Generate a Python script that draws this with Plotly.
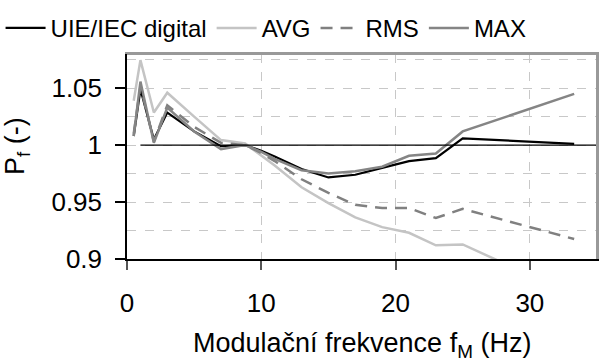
import plotly.graph_objects as go

freq = [0.5, 1, 2, 3, 5, 7, 8.8, 10, 11, 13, 15, 17, 19, 21, 23, 25, 33.3]
uie = [1.008, 1.049, 1.005, 1.0286, 1.012, 0.999, 1.0, 0.995, 0.990, 0.979, 0.9716, 0.974, 0.980, 0.986, 0.9886, 1.006, 1.001]
avg = [1.039, 1.0746, 1.0286, 1.046, 1.025, 1.0044, 1.0014, 0.991, 0.982, 0.963, 0.949, 0.9365, 0.928, 0.923, 0.912, 0.9128, 0.868]
rms = [1.010, 1.052, 1.003, 1.035, 1.016, 1.002, 1.0, 0.993, 0.986, 0.970, 0.958, 0.9476, 0.9447, 0.9447, 0.936, 0.944, 0.9175]
mx = [1.008, 1.0558, 1.002, 1.033, 1.012, 0.9965, 1.0, 0.994, 0.988, 0.978, 0.975, 0.977, 0.981, 0.9906, 0.9926, 1.012, 1.045]

ref_x = [1, 35]
ref_y = [1, 1]

x_ticks = [0, 10, 20, 30]
y_ticks = [0.9, 0.95, 1, 1.05]
y_tick_text = ["0.9", "0.95", "1", "1.05"]

x_title = "Modulační frekvence f<sub>M</sub> (Hz)"
y_title = "P<sub>f</sub> (-)"

X_RANGE = [0, 35]
Y_RANGE = [0.9, 1.08]

FONT = "Liberation Sans, Arial, sans-serif"

fig = go.Figure()
fig.add_trace(go.Scatter(x=ref_x, y=ref_y, mode="lines", line=dict(color="black", width=1.2),
                         showlegend=False, hoverinfo="skip", xaxis="x2", yaxis="y2"))
fig.add_trace(go.Scatter(x=freq, y=uie, mode="lines", name="UIE/IEC digital",
                         line=dict(color="black", width=2.2)))
fig.add_trace(go.Scatter(x=freq, y=avg, mode="lines", name="AVG",
                         line=dict(color="#c4c4c4", width=2.5)))
fig.add_trace(go.Scatter(x=freq, y=rms, mode="lines", name="RMS",
                         line=dict(color="#808080", width=2.5, dash="12px,8px")))
fig.add_trace(go.Scatter(x=freq, y=mx, mode="lines", name="MAX",
                         line=dict(color="#858585", width=2.5)))

fig.update_layout(
    width=614, height=361,
    margin=dict(l=127, r=17, t=54, b=102, autoexpand=False),
    paper_bgcolor="white", plot_bgcolor="white",
    font=dict(family=FONT, size=26, color="black"),
    legend=dict(orientation="h", x=-0.269, y=1.235,
                xanchor="left", yanchor="top", font=dict(size=24), itemwidth=40,
                bgcolor="rgba(0,0,0,0)", tracegroupgap=0),
    xaxis2=dict(overlaying="x", side="top", range=X_RANGE, showline=True, linecolor="#999999",
                linewidth=2, showgrid=False, zeroline=False, showticklabels=False, ticks="",
                automargin=False),
    yaxis2=dict(overlaying="y", side="right", range=Y_RANGE, showline=True, linecolor="#999999",
                linewidth=2, showgrid=False, zeroline=False, showticklabels=False, ticks="",
                automargin=False),
    shapes=[
        dict(type="line", xref="paper", yref="paper", x0=0, x1=1.002, y0=1, y1=1,
             line=dict(color="#999999", width=2), layer="above"),
        dict(type="line", xref="paper", yref="paper", x0=1, x1=1, y0=0, y1=1.004,
             line=dict(color="#999999", width=2), layer="above"),
    ],
    annotations=[
        dict(text=x_title, xref="paper", yref="paper", x=0.5, y=-0.42, xanchor="center",
             yanchor="middle", showarrow=False, font=dict(size=27)),
        dict(text=y_title, xref="paper", yref="paper", x=-0.234, y=0.551, xanchor="center",
             yanchor="middle", showarrow=False, textangle=-90, font=dict(size=27)),
    ],
)
fig.update_layout(
    xaxis=dict(range=X_RANGE, tickvals=x_ticks, ticks="outside", ticklen=9, tickwidth=1.5,
               tickcolor="#555555", showline=True, linecolor="black", linewidth=1.5,
               showgrid=True, gridcolor="#c8c8c8", griddash="dash", gridwidth=1,
               zeroline=False, tickfont=dict(size=26), ticklabelstandoff=11, automargin=False),
    yaxis=dict(range=Y_RANGE, tickvals=y_ticks, ticktext=y_tick_text, ticks="outside", ticklen=10,
               tickwidth=1.5, tickcolor="black", showline=True, linecolor="black", linewidth=1.5,
               showgrid=True, gridcolor="#c8c8c8", griddash="dash", gridwidth=1,
               minor=dict(dtick=0.025, tick0=0.9, showgrid=True, gridcolor="#c8c8c8", griddash="dash", gridwidth=1),
               zeroline=False, tickfont=dict(size=26), ticklabelstandoff=8, automargin=False),
)

fig.write_html("out.html")
